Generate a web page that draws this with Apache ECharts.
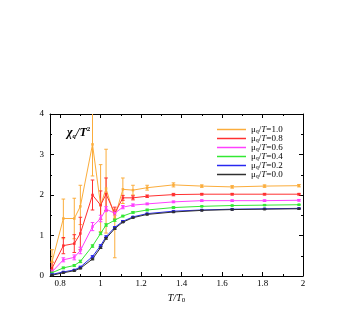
<!DOCTYPE html>
<html><head><meta charset="utf-8">
<script src="https://cdn.jsdelivr.net/npm/echarts@6/dist/echarts.min.js"></script>
<style>html,body{margin:0;padding:0;background:#fff}#c{width:349px;height:311px}</style>
</head><body><div id="c"></div>
<script>
// ---- data ----
const temps = [0.76, 0.816, 0.87, 0.90, 0.96, 1.00, 1.027, 1.07, 1.11, 1.16, 1.23, 1.36, 1.50, 1.65, 1.81, 1.98];
const mu10 = [0.35, 1.42, 1.42, 1.72, 3.25, 1.75, 2.16, 1.45, 2.14, 2.12, 2.18, 2.25, 2.22, 2.20, 2.22, 2.23];
const mu10Lo = [0.30, 0.50, 0.50, 0.45, 0.78, 0.65, 1.10, 1.00, 0.35, 0.12, 0.06, 0.05, 0.03, 0.03, 0.03, 0.03];
const mu10Hi = [0.30, 0.48, 0.50, 0.52, 0.80, 1.00, 0.97, 0.20, 0.28, 0.12, 0.06, 0.05, 0.03, 0.03, 0.03, 0.03];
const mu08 = [0.19, 0.75, 0.80, 1.05, 2.00, 1.75, 2.02, 1.55, 1.93, 1.93, 1.97, 2.01, 2.02, 2.02, 2.02, 2.02];
const mu08Err = [0.15, 0.20, 0.22, 0.40, 0.37, 0.35, 0.40, 0.15, 0.06, 0.05, 0.03, 0.03, 0.02, 0.02, 0.02, 0.02];
const mu06 = [0.10, 0.40, 0.46, 0.63, 1.22, 1.42, 1.65, 1.55, 1.70, 1.75, 1.78, 1.83, 1.86, 1.86, 1.86, 1.87];
const mu06Err = [0.05, 0.05, 0.06, 0.08, 0.10, 0.08, 0.06, 0.05, 0.04, 0.03, 0.02, 0.02, 0.02, 0.02, 0.02, 0.02];
const mu04 = [0.08, 0.20, 0.26, 0.36, 0.74, 1.05, 1.26, 1.38, 1.48, 1.57, 1.63, 1.69, 1.72, 1.74, 1.75, 1.76];
const mu04Err = [0.02, 0.02, 0.02, 0.03, 0.03, 0.03, 0.03, 0.03, 0.02, 0.02, 0.02, 0.02, 0.01, 0.01, 0.01, 0.01];
const mu02 = [0.04, 0.10, 0.15, 0.22, 0.48, 0.75, 0.97, 1.20, 1.35, 1.46, 1.54, 1.60, 1.63, 1.65, 1.66, 1.67];
const mu02Err = [0.01, 0.01, 0.01, 0.02, 0.02, 0.02, 0.02, 0.02, 0.02, 0.01, 0.01, 0.01, 0.01, 0.01, 0.01, 0.01];
const mu00 = [0.02, 0.08, 0.13, 0.19, 0.42, 0.70, 0.93, 1.17, 1.33, 1.44, 1.52, 1.58, 1.62, 1.64, 1.65, 1.66];
const mu00Err = [0.01, 0.01, 0.01, 0.01, 0.02, 0.02, 0.02, 0.02, 0.01, 0.01, 0.01, 0.01, 0.01, 0.01, 0.01, 0.01];
const seriesNames = ['1.0', '0.8', '0.6', '0.4', '0.2', '0.0'];
const xMajorTicks = [0.8, 1.0, 1.2, 1.4, 1.6, 1.8, 2.0];
const xMinorTicks = [0.9, 1.1, 1.3, 1.5, 1.7, 1.9];

// ---- chart ----
const serif = '"Liberation Serif","DejaVu Serif",serif';
const colors = ['#fbad3c', '#ff3030', '#ff40ff', '#33e833', '#2828f0', '#303030'];
const values = [mu10, mu08, mu06, mu04, mu02, mu00];
const lows = [mu10Lo, mu08Err, mu06Err, mu04Err, mu02Err, mu00Err];
const highs = [mu10Hi, mu08Err, mu06Err, mu04Err, mu02Err, mu00Err];

const chart = echarts.init(document.getElementById('c'));

function errSeries(color, ys, lo, hi) {
  return {
    type: 'custom', xAxisIndex: 0, yAxisIndex: 0, silent: true, clip: true, z: 1,
    data: temps.map((t, i) => [t, ys[i] - lo[i], ys[i] + hi[i]]),
    encode: { x: 0, y: [1, 2] },
    renderItem(params, api) {
      const cs = params.coordSys;
      const x = api.value(0);
      const p1 = api.coord([x, api.value(1)]);
      const p2 = api.coord([x, api.value(2)]);
      const top = cs.y, bot = cs.y + cs.height;
      const y1 = Math.min(Math.max(p1[1], top), bot);
      const y2 = Math.min(Math.max(p2[1], top), bot);
      const w = 1.8;
      const style = { stroke: color, lineWidth: 1, fill: null };
      const ch = [{ type: 'line', shape: { x1: p1[0], y1: y1, x2: p1[0], y2: y2 }, style }];
      if (p1[1] <= bot) ch.push({ type: 'line', shape: { x1: p1[0] - w, y1: y1, x2: p1[0] + w, y2: y1 }, style });
      if (p2[1] >= top) ch.push({ type: 'line', shape: { x1: p2[0] - w, y1: y2, x2: p2[0] + w, y2: y2 }, style });
      return { type: 'group', children: ch };
    }
  };
}

const series = [];
seriesNames.forEach((n, k) => {
  series.push(errSeries(colors[k], values[k], lows[k], highs[k]));
});
seriesNames.forEach((n, k) => {
  series.push({
    name: n, type: 'line', xAxisIndex: 0, yAxisIndex: 0, z: 3,
    data: temps.map((t, i) => [t, values[k][i]]),
    symbol: 'rect', symbolSize: 2.5, showSymbol: true,
    lineStyle: { color: colors[k], width: 1 },
    itemStyle: { color: colors[k] },
    animation: false
  });
});

const axLine = { show: true, lineStyle: { color: '#000', width: 1 } };
const xBase = { type: 'value', min: 0.75, max: 2.0, gridIndex: 0, splitLine: { show: false } };
const yBase = { type: 'value', min: 0, max: 4, interval: 1, gridIndex: 0, splitLine: { show: false } };

chart.setOption({
  animation: false,
  backgroundColor: '#fff',
  grid: { left: 50, right: 46, top: 114, bottom: 35 },
  title: {
    text: '{a|χ}{s|q}{a|/T}{p|2}', left: 62, top: 121,
    textStyle: {
      rich: {
        a: { fontFamily: serif, fontStyle: 'italic', fontSize: 12, color: '#000' },
        s: { fontFamily: serif, fontStyle: 'italic', fontSize: 7, color: '#000', padding: [7, 0, 0, 0] },
        p: { fontFamily: serif, fontSize: 7, color: '#000', padding: [0, 0, 7, 0] }
      }
    }
  },
  legend: {
    data: seriesNames, orient: 'vertical', left: 212, top: 120,
    icon: 'rect', itemWidth: 29, itemHeight: 1.5, itemGap: 0,
    formatter: n => '{m|μ}{s|q}{m|/}{t|T}{m|=' + n + '}',
    textStyle: {
      lineHeight: 8,
      rich: {
        m: { fontFamily: serif, fontSize: 9, color: '#000', lineHeight: 8 },
        t: { fontFamily: serif, fontStyle: 'italic', fontSize: 9, color: '#000', lineHeight: 8 },
        s: { fontFamily: serif, fontSize: 6, color: '#000', lineHeight: 8, padding: [3, 0, 0, 0] }
      }
    }
  },
  xAxis: [
    Object.assign({}, xBase, {
      position: 'bottom', axisLine: axLine,
      axisTick: { show: true, inside: true, length: 4, customValues: xMajorTicks, lineStyle: { color: '#000' } },
      axisLabel: { show: true, customValues: xMajorTicks, fontFamily: serif, fontSize: 9, color: '#000', margin: 3 },
      name: '{i|T/T}{s|0}', nameLocation: 'middle', nameGap: 15,
      nameTextStyle: {
        rich: {
          i: { fontFamily: serif, fontStyle: 'italic', fontSize: 10, color: '#000' },
          s: { fontFamily: serif, fontSize: 7, color: '#000', padding: [5, 0, 0, 0] }
        }
      }
    }),
    Object.assign({}, xBase, {
      position: 'bottom', axisLine: { show: false },
      axisTick: { show: true, inside: true, length: 2, customValues: xMinorTicks, lineStyle: { color: '#000' } },
      axisLabel: { show: false }
    }),
    Object.assign({}, xBase, {
      position: 'top', axisLine: axLine,
      axisTick: { show: true, inside: true, length: 4, customValues: xMajorTicks, lineStyle: { color: '#000' } },
      axisLabel: { show: false }
    }),
    Object.assign({}, xBase, {
      position: 'top', axisLine: { show: false },
      axisTick: { show: true, inside: true, length: 2, customValues: xMinorTicks, lineStyle: { color: '#000' } },
      axisLabel: { show: false }
    })
  ],
  yAxis: [
    Object.assign({}, yBase, {
      position: 'left', axisLine: axLine,
      axisTick: { show: true, inside: true, length: 4, lineStyle: { color: '#000' } },
      minorTick: { show: true, splitNumber: 2, length: 2, lineStyle: { color: '#000' } },
      axisLabel: { show: true, fontFamily: serif, fontSize: 9, color: '#000', margin: 6 }
    }),
    Object.assign({}, yBase, {
      position: 'right', axisLine: axLine,
      axisTick: { show: true, inside: true, length: 4, lineStyle: { color: '#000' } },
      minorTick: { show: true, splitNumber: 2, length: 2, lineStyle: { color: '#000' } },
      axisLabel: { show: false }
    })
  ],
  series: series
});
</script>
</body></html>
